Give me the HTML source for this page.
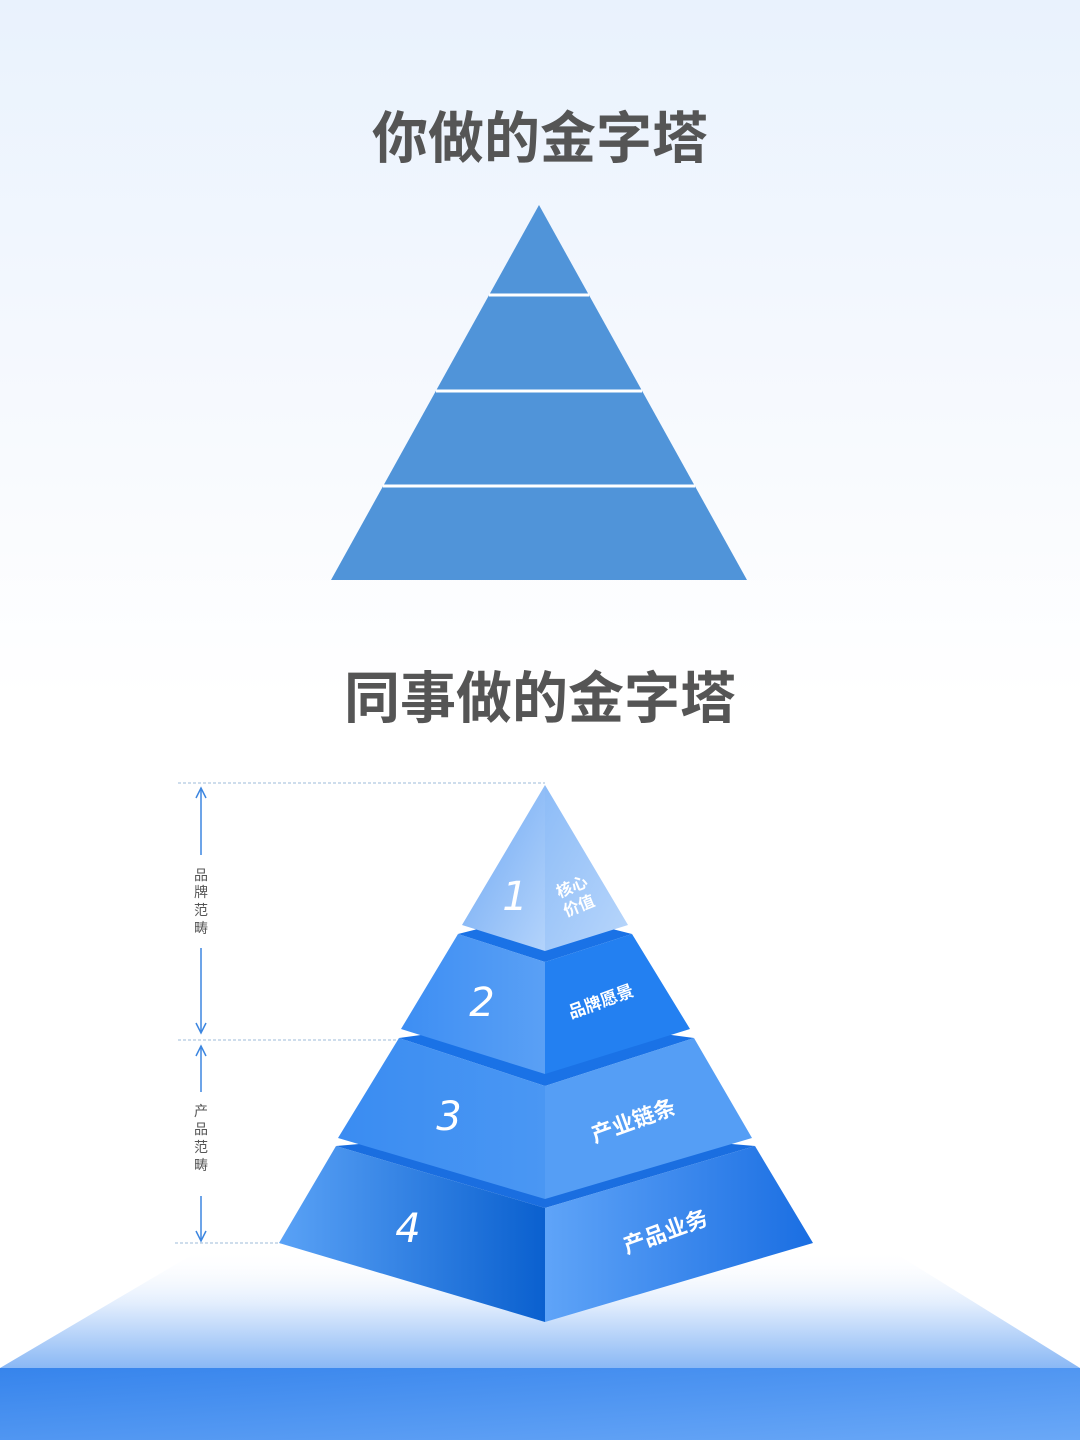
<!DOCTYPE html>
<html><head><meta charset="utf-8"><style>
html,body{margin:0;padding:0}
body{width:1080px;height:1440px;overflow:hidden;background:linear-gradient(#e9f2fd 0px,#f6f9fe 400px,#ffffff 700px,#ffffff 1440px);font-family:"Liberation Sans","Noto Sans CJK SC",sans-serif;}
</style></head><body>
<svg width="1080" height="1440" viewBox="0 0 1080 1440" xmlns="http://www.w3.org/2000/svg" style="position:absolute;left:0;top:0">
<defs>
<linearGradient id="gnd" x1="0" y1="0" x2="0" y2="1"><stop offset="0" stop-color="#ffffff" stop-opacity="0"/><stop offset="0.45" stop-color="#e3eefd"/><stop offset="1" stop-color="#8ab8f5"/></linearGradient>
<linearGradient id="bar" x1="0" y1="0" x2="1" y2="1"><stop offset="0" stop-color="#3684ec"/><stop offset="1" stop-color="#6aa8f7"/></linearGradient>
<linearGradient id="t1l" x1="0" y1="0" x2="1" y2="1"><stop offset="0" stop-color="#6ea8f3"/><stop offset="1" stop-color="#b3d3fb"/></linearGradient>
<linearGradient id="t1r" x1="0" y1="0" x2="1" y2="1"><stop offset="0" stop-color="#8dbcf7"/><stop offset="1" stop-color="#b8d6fb"/></linearGradient>
<linearGradient id="t4l" x1="0" y1="0" x2="1" y2="0"><stop offset="0" stop-color="#5aa2f6"/><stop offset="1" stop-color="#0a60cf"/></linearGradient>
<linearGradient id="t4r" x1="0" y1="0" x2="1" y2="0"><stop offset="0" stop-color="#5fa4f8"/><stop offset="1" stop-color="#1a6ee2"/></linearGradient>
<linearGradient id="t3l" x1="0" y1="0" x2="1" y2="0"><stop offset="0" stop-color="#3a8cf2"/><stop offset="1" stop-color="#4a97f3"/></linearGradient>
<linearGradient id="t2l" x1="0" y1="0" x2="1" y2="0"><stop offset="0" stop-color="#3d8ef3"/><stop offset="1" stop-color="#5aa0f5"/></linearGradient>
</defs>
<text x="540" y="158" text-anchor="middle" font-size="56" font-weight="bold" fill="#555" font-family="'Liberation Sans','Noto Sans CJK SC',sans-serif">你做的金字塔</text>
<polygon points="539,205 331,580 747,580" fill="#5094d9"/>
<g stroke="#fff" stroke-width="3"><line x1="489" y1="295" x2="589" y2="295"/><line x1="436" y1="391" x2="642" y2="391"/><line x1="383" y1="486" x2="695" y2="486"/></g>
<text x="540" y="718" text-anchor="middle" font-size="56" font-weight="bold" fill="#555" font-family="'Liberation Sans','Noto Sans CJK SC',sans-serif">同事做的金字塔</text>
<polygon points="200,1250 890,1250 1080,1368 0,1368" fill="url(#gnd)"/>
<rect x="0" y="1368" width="1080" height="72" fill="url(#bar)"/>
<g stroke="#9cbbd8" stroke-width="1" stroke-dasharray="3,2"><line x1="178" y1="783" x2="545" y2="783"/><line x1="178" y1="1040" x2="430" y2="1040"/><line x1="175" y1="1243" x2="285" y2="1243"/></g>
<g stroke="#3c86e0" stroke-width="1.5" fill="none">
<line x1="201" y1="790" x2="201" y2="855"/><line x1="201" y1="948" x2="201" y2="1032"/>
<polyline points="196,798 201,788 206,798"/><polyline points="196,1023 201,1033 206,1023"/>
<line x1="201" y1="1046" x2="201" y2="1092"/><line x1="201" y1="1196" x2="201" y2="1240"/>
<polyline points="196,1056 201,1046 206,1056"/><polyline points="196,1231 201,1241 206,1231"/>
</g>
<g font-size="14" fill="#555" text-anchor="middle"><text x="201" y="880">品</text><text x="201" y="897">牌</text><text x="201" y="915">范</text><text x="201" y="933">畴</text>
<text x="201" y="1116">产</text><text x="201" y="1134">品</text><text x="201" y="1152">范</text><text x="201" y="1170">畴</text></g>
<!-- tier4 -->
<polygon points="336,1146 545,1128 755,1146 545,1208" fill="#1a6ee0"/>
<polygon points="336,1146 545,1208 545,1322 279,1243" fill="url(#t4l)"/>
<polygon points="545,1208 755,1146 813,1243 545,1322" fill="url(#t4r)"/>
<!-- tier3 -->
<polygon points="399,1038 545,1018 694,1038 545,1086" fill="#1a72e6"/>
<polygon points="399,1038 545,1086 545,1199 338,1138" fill="url(#t3l)"/>
<polygon points="545,1086 694,1038 752,1138 545,1199" fill="#559ef5"/>
<!-- tier2 -->
<polygon points="458,934 545,912 632,934 545,962" fill="#1a72e6"/>
<polygon points="458,934 545,962 545,1074 401,1029" fill="url(#t2l)"/>
<polygon points="545,962 632,934 690,1029 545,1074" fill="#2380f1"/>
<!-- tier1 -->
<polygon points="545,785 462,925 545,951" fill="url(#t1l)"/>
<polygon points="545,785 545,951 628,925" fill="url(#t1r)"/>
<g fill="#fff" font-style="italic" text-anchor="middle" font-family="'DejaVu Sans','Liberation Sans',sans-serif">
<text x="515" y="910" font-size="40">1</text><text x="482" y="1016" font-size="40">2</text><text x="449" y="1130" font-size="40">3</text><text x="408" y="1242" font-size="40">4</text></g>
<g fill="#fff" font-weight="bold" text-anchor="middle" font-family="'Liberation Sans','Noto Sans CJK SC',sans-serif">
<text transform="translate(574,892) rotate(-22)" font-size="16">核心</text>
<text transform="translate(581,911) rotate(-22)" font-size="16">价值</text>
<text transform="translate(603,1007) rotate(-20)" font-size="17">品牌愿景</text>
<text transform="translate(636,1128) rotate(-20)" font-size="22">产业链条</text>
<text transform="translate(668,1239) rotate(-20)" font-size="22">产品业务</text>
</g>
</svg>
</body></html>
